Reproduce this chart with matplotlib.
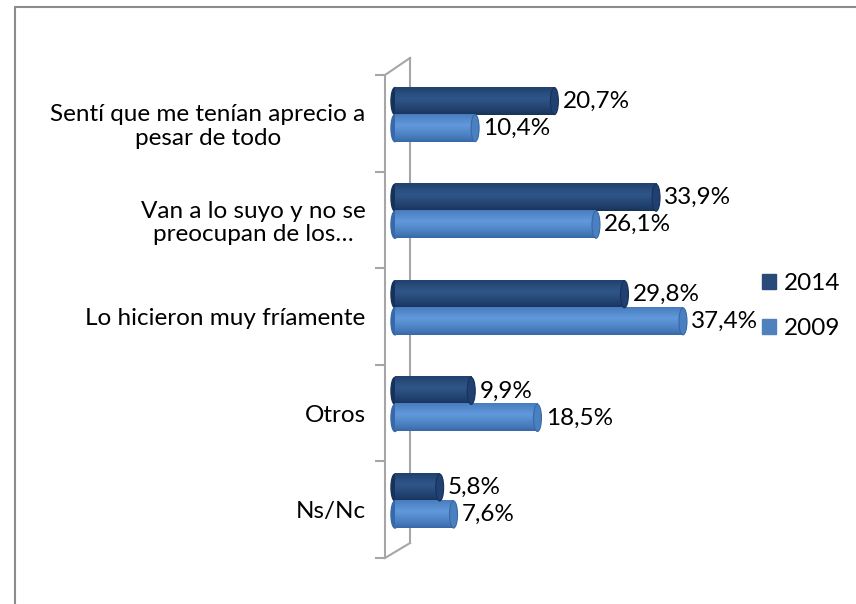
import matplotlib
matplotlib.use("Agg")
import matplotlib.pyplot as plt
import numpy as np
from matplotlib.patches import Ellipse, Rectangle, Patch

plt.rcParams['font.family'] = ['Lato', 'DejaVu Sans']

categories = ["Sentí que me tenían aprecio a\npesar de todo",
              "Van a lo suyo y no se\npreocupan de los…",
              "Lo hicieron muy fríamente",
              "Otros",
              "Ns/Nc"]
v2014 = [20.7, 33.9, 29.8, 9.9, 5.8]
v2009 = [10.4, 26.1, 37.4, 18.5, 7.6]
series = ["2014", "2009"]

dark = ('#17325a', '#2f5689', '#1f4070')
light = ('#3768a8', '#6099dc', '#4a7fc0')

px = 7.7          # pixels per percent
cap_w = 8 / px    # width of the round end in data units
bar_h = 0.28
fs = 17.5


def cylinder(ax, y, v, cols):
    edge, mid, capc = cols
    c_edge = np.array(matplotlib.colors.to_rgb(edge))
    c_mid = np.array(matplotlib.colors.to_rgb(mid))
    t = np.linspace(0, 1, 40)
    w = np.clip(1 - np.abs(t - 0.4) / 0.6, 0, 1) ** 0.8
    grad = c_edge[None, :] * (1 - w[:, None]) + c_mid[None, :] * w[:, None]
    grad = grad[:, None, :]
    ax.add_patch(Ellipse((0, y), cap_w, bar_h, color=edge, zorder=2))
    ax.imshow(grad, extent=[0, v, y + bar_h / 2, y - bar_h / 2],
              aspect='auto', zorder=3, interpolation='bilinear')
    ax.add_patch(Ellipse((v, y), cap_w, bar_h, facecolor=capc,
                         edgecolor=edge, lw=0.8, zorder=4))


fig = plt.figure(figsize=(8.56, 6.04), dpi=100)
ax = fig.add_axes([385 / 856, 46 / 604, 360 / 856, 483 / 604])

pos = np.arange(len(categories))
for i in pos:
    cylinder(ax, i - 0.23, v2014[i], dark)
    cylinder(ax, i + 0.05, v2009[i], light)
    for v, yy in ((v2014[i], i - 0.23), (v2009[i], i + 0.05)):
        ax.annotate(f"{v:.1f}".replace('.', ',') + '%', xy=(v + cap_w / 2, yy),
                    xytext=(3, 0), textcoords='offset points', va='center',
                    ha='left', fontsize=fs, color='black', zorder=5)

xl = (-10 / px, 350 / px)
ax.set_xlim(*xl)
ax.set_ylim(4.5, -0.5)

# 3d wall: back line and diagonals
bx = 15 / px
ax.plot([bx, bx], [-0.676, 4.345], color='#a6a6a6', lw=1.5, zorder=1, clip_on=False)
ax.plot([xl[0], bx], [-0.5, -0.676], color='#a6a6a6', lw=1.5, clip_on=False)
ax.plot([xl[0], bx], [4.5, 4.345], color='#a6a6a6', lw=1.5, clip_on=False)

for s in ['top', 'right', 'bottom']:
    ax.spines[s].set_visible(False)
ax.spines['left'].set_color('#a6a6a6')
ax.spines['left'].set_linewidth(1.5)
ax.set_xticks([])
ax.set_yticks(pos)
ax.set_yticklabels(categories, fontsize=fs, multialignment='center', linespacing=1.15)
ax.tick_params(axis='y', which='major', length=0, pad=14)
ax.set_yticks(np.arange(-0.5, 5, 1), minor=True)
ax.tick_params(axis='y', which='minor', length=7, width=1.5, color='#a6a6a6')
ax.patch.set_visible(False)

handles = [Patch(color='#2a4a7a'), Patch(color='#4f81bd')]
fig.legend(handles, series, loc='center left', bbox_to_anchor=(740 / 856, 298 / 604),
           frameon=False, fontsize=fs, handlelength=0.6, handleheight=0.6,
           handletextpad=0.3, labelspacing=1.0)

fig.add_artist(Rectangle((15 / 856, -0.1), 1.2, (604 - 7) / 604 + 0.1, fill=False,
                         edgecolor='#8c8c8c', lw=1.5, transform=fig.transFigure))

fig.savefig('out.png', dpi=100, facecolor='white')
